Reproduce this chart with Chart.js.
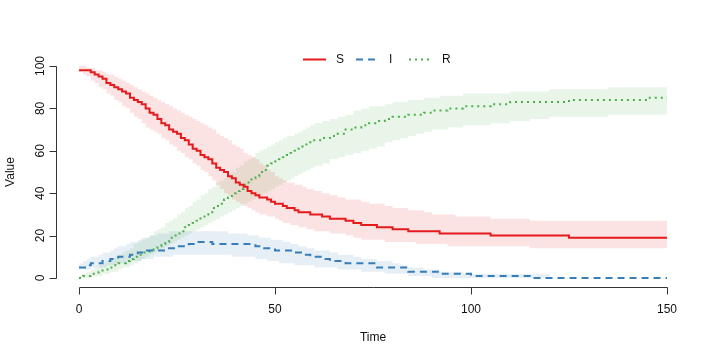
<!DOCTYPE html>
<html>
<head>
<meta charset="utf-8">
<script src="https://cdn.jsdelivr.net/npm/chart.js@4"></script>
<style>
  html, body { margin: 0; padding: 0; background: #fff; }
</style>
</head>
<body>
<canvas id="sirChart" width="720" height="360"></canvas>
<script>
// time points (days) where the step values are read
const time = [0, 1, 2, 3, 4, 5, 6, 7, 8, 9,
              10, 11, 12, 13, 14, 15, 16, 17, 18, 19,
              20, 21, 22, 23, 24, 25, 26, 27, 28, 29,
              30, 31, 32, 33, 34, 35, 36, 37, 38, 39,
              40, 41, 42, 43, 44, 45, 46, 47, 48, 49,
              50, 51, 52, 53, 54, 55, 56, 57, 58, 59,
              60,
              62, 64, 66, 68, 70, 72, 74, 76, 78, 80,
              82, 84, 86, 88, 90, 92, 94, 96, 98, 100,
              105, 110, 115, 120, 125, 130, 135, 140, 145, 150];

const sMedian = [98, 98, 98, 97, 96, 95, 94, 92, 91, 90,
                 89, 88, 87, 85, 84, 83, 82, 80, 78, 77,
                 75, 73, 72, 70, 69, 68, 66, 65, 63, 61,
                 60, 58, 57, 56, 54, 52, 51, 50, 48, 47,
                 45, 44, 43, 41, 40, 39, 38, 38, 37, 36,
                 35, 35, 34, 33, 33, 32, 31, 31, 31, 30,
                 30,
                 29, 28, 28, 27, 26, 25, 25, 24, 24, 23,
                 23, 22, 22, 22, 22, 21, 21, 21, 21, 21,
                 20, 20, 20, 20, 19, 19, 19, 19, 19, 19];
const sUpper = [100, 100, 99, 99, 98, 98, 97, 96, 96, 95,
                94, 93, 92, 91, 90, 89, 88, 87, 86, 85,
                84, 83, 82, 81, 80, 79, 78, 77, 76, 75,
                74, 73, 72, 71, 70, 68, 67, 66, 65, 63,
                62, 61, 59, 58, 57, 56, 54, 53, 51, 50,
                48, 47, 46, 45, 45, 44, 44, 43, 42, 42,
                41,
                40, 39, 38, 37, 37, 36, 35, 35, 34, 33,
                33, 32, 32, 31, 30, 30, 30, 29, 29, 29,
                28, 28, 27, 27, 27, 27, 27, 27, 27, 27];
const sLower = [97, 96, 95, 93, 92, 90, 89, 87, 86, 84,
                83, 81, 80, 78, 76, 75, 73, 71, 70, 69,
                68, 66, 65, 63, 62, 60, 59, 57, 56, 54,
                53, 51, 50, 48, 46, 44, 42, 40, 39, 37,
                36, 35, 34, 33, 32, 31, 30, 30, 29, 29,
                28, 27, 26, 26, 25, 25, 24, 24, 23, 23,
                22,
                22, 21, 21, 20, 19, 18, 18, 18, 17, 17,
                17, 17, 16, 16, 16, 16, 15, 15, 15, 15,
                15, 15, 14, 14, 14, 14, 14, 14, 14, 14];

const iMedian = [5, 5, 6, 7, 7, 7, 8, 8, 9, 9,
                 10, 10, 10, 11, 11, 12, 12, 13, 13, 13,
                 13, 13, 14, 14, 14, 15, 15, 15, 16, 16,
                 17, 17, 17, 17, 16, 16, 16, 16, 16, 16,
                 16, 16, 16, 16, 16, 15, 14, 14, 14, 14,
                 13, 13, 13, 13, 13, 12, 12, 11, 11, 10,
                 10,
                 9, 8, 8, 7, 7, 7, 7, 5, 5, 5,
                 5, 3, 3, 3, 3, 2, 2, 2, 2, 1,
                 1, 1, 0, 0, 0, 0, 0, 0, 0, 0];
const iUpper = [7, 8, 9, 10, 10, 11, 12, 12, 13, 14,
                15, 15, 16, 17, 17, 18, 19, 19, 20, 20,
                21, 21, 21, 22, 22, 22, 22, 22, 22, 22,
                22, 22, 22, 22, 22, 22, 22, 22, 21, 21,
                21, 21, 21, 20, 20, 20, 19, 19, 19, 18,
                18, 18, 17, 17, 16, 16, 15, 15, 14, 14,
                13,
                13, 12, 11, 11, 10, 9, 9, 8, 8, 7,
                6, 5, 5, 4, 4, 3, 3, 3, 2, 2,
                2, 2, 2, 0, 0, 0, 0, 0, 0, 0];
const iLower = [4, 4, 4, 5, 5, 5, 5, 6, 6, 6,
                7, 7, 7, 8, 8, 8, 9, 9, 9, 10,
                10, 10, 10, 10, 11, 11, 11, 11, 11, 11,
                11, 11, 11, 11, 11, 11, 11, 11, 11, 10,
                10, 10, 10, 10, 10, 9, 9, 9, 8, 8,
                8, 7, 7, 7, 7, 6, 6, 6, 6, 6,
                5,
                5, 5, 4, 4, 4, 3, 3, 3, 2, 2,
                2, 1, 1, 1, 0, 0, 0, 0, 0, 0,
                0, 0, 0, 0, 0, 0, 0, 0, 0, 0];

const rMedian = [0, 1, 1, 2, 2, 3, 4, 4, 5, 6,
                 7, 7, 8, 9, 10, 11, 12, 12, 13, 14,
                 15, 16, 17, 19, 20, 21, 22, 24, 25, 26,
                 27, 29, 30, 31, 33, 34, 35, 37, 38, 40,
                 41, 42, 44, 45, 47, 48, 50, 51, 53, 54,
                 55, 56, 57, 58, 59, 60, 61, 62, 63, 64,
                 65,
                 66, 67, 68, 70, 71, 72, 73, 74, 75, 76,
                 76, 77, 77, 78, 79, 79, 80, 80, 81, 81,
                 82, 83, 83, 83, 84, 84, 84, 84, 85, 85];
const rUpper = [1, 2, 3, 4, 5, 6, 7, 8, 9, 10,
                11, 12, 13, 14, 16, 17, 18, 19, 20, 22,
                23, 24, 26, 27, 28, 30, 31, 33, 34, 36,
                37, 39, 40, 42, 43, 45, 46, 47, 49, 50,
                52, 53, 55, 56, 57, 59, 60, 61, 62, 63,
                64, 65, 66, 67, 67, 68, 69, 70, 71, 72,
                73,
                74, 75, 76, 77, 79, 80, 81, 81, 82, 83,
                83, 84, 84, 85, 85, 86, 86, 86, 87, 87,
                87, 88, 88, 89, 89, 89, 90, 90, 90, 90];
const rLower = [0, 0, 0, 1, 1, 1, 2, 2, 3, 3,
                4, 5, 5, 6, 7, 8, 9, 10, 11, 12,
                13, 14, 15, 16, 17, 18, 19, 20, 21, 22,
                23, 24, 25, 26, 27, 28, 29, 30, 31, 32,
                33, 34, 35, 36, 37, 38, 39, 40, 41, 42,
                43, 44, 45, 46, 47, 48, 49, 50, 51, 52,
                53,
                54, 56, 57, 58, 59, 60, 61, 62, 64, 65,
                66, 67, 68, 69, 70, 70, 71, 71, 72, 72,
                73, 74, 75, 76, 76, 76, 77, 77, 77, 77];

const xTicks = [0, 50, 100, 150];
const yTicks = [0, 20, 40, 60, 80, 100];
const xTitle = 'Time';
const yTitle = 'Value';

const FONT = '12px "Liberation Sans", Arial, Helvetica, sans-serif';

function pts(arr) {
    return time.map((t, i) => ({ x: t, y: arr[i] }));
}

function line(label, arr, color, dash) {
    return {
        label: label, data: pts(arr), borderColor: color, borderWidth: 2,
        borderDash: dash, stepped: true, fill: false, pointRadius: 0, inLegend: true
    };
}

function band(arr, fill, bg) {
    return {
        label: '', data: pts(arr), borderColor: 'transparent', borderWidth: 0,
        backgroundColor: bg, stepped: true, fill: fill, pointRadius: 0
    };
}

// R base-graphics style axes, drawn by hand so the y labels can be rotated
const rAxes = {
    id: 'rAxes',
    afterDraw(chart) {
        const { ctx, chartArea, scales: { x, y } } = chart;
        ctx.save();
        ctx.strokeStyle = '#333';
        ctx.lineWidth = 1;
        ctx.fillStyle = '#111';
        ctx.font = FONT;
        ctx.textAlign = 'center';
        ctx.textBaseline = 'middle';

        const bottom = Math.round(chartArea.bottom) + 0.5;
        ctx.beginPath();
        ctx.moveTo(Math.round(x.getPixelForValue(xTicks[0])) + 0.5, bottom);
        ctx.lineTo(Math.round(x.getPixelForValue(xTicks[xTicks.length - 1])) + 0.5, bottom);
        xTicks.forEach(v => {
            const px = Math.round(x.getPixelForValue(v)) + 0.5;
            ctx.moveTo(px, bottom);
            ctx.lineTo(px, bottom + 7);
        });
        const left = Math.round(chartArea.left) + 0.5;
        ctx.moveTo(left, Math.round(y.getPixelForValue(yTicks[0])) + 0.5);
        ctx.lineTo(left, Math.round(y.getPixelForValue(yTicks[yTicks.length - 1])) + 0.5);
        yTicks.forEach(v => {
            const py = Math.round(y.getPixelForValue(v)) + 0.5;
            ctx.moveTo(left, py);
            ctx.lineTo(left - 7, py);
        });
        ctx.stroke();

        xTicks.forEach(v => ctx.fillText(String(v), x.getPixelForValue(v), bottom + 22));
        ctx.fillText(xTitle, (chartArea.left + chartArea.right) / 2, bottom + 50);

        yTicks.forEach(v => {
            ctx.save();
            ctx.translate(left - 16, y.getPixelForValue(v));
            ctx.rotate(-Math.PI / 2);
            ctx.fillText(String(v), 0, 0);
            ctx.restore();
        });
        ctx.save();
        ctx.translate(11, (chartArea.top + chartArea.bottom) / 2);
        ctx.rotate(-Math.PI / 2);
        ctx.fillText(yTitle, 0, 0);
        ctx.restore();
        ctx.restore();
    }
};

// legend inside the plot, line sample + label
const rLegend = {
    id: 'rLegend',
    afterDraw(chart) {
        const ctx = chart.ctx;
        const items = chart.data.datasets.filter(d => d.inLegend);
        let xPos = 303;
        const yPos = 59.5;
        ctx.save();
        ctx.font = FONT;
        ctx.textBaseline = 'middle';
        ctx.textAlign = 'left';
        items.forEach(d => {
            ctx.strokeStyle = d.borderColor;
            ctx.lineWidth = 2;
            ctx.setLineDash(d.borderDash || []);
            ctx.beginPath();
            ctx.moveTo(xPos, yPos);
            ctx.lineTo(xPos + 23, yPos);
            ctx.stroke();
            ctx.setLineDash([]);
            ctx.fillStyle = '#111';
            ctx.fillText(d.label, xPos + 33, yPos);
            xPos += 33 + Math.max(ctx.measureText(d.label).width, 8) + 12;
        });
        ctx.restore();
    }
};

const ctx = document.getElementById('sirChart').getContext('2d');

new Chart(ctx, {
    type: 'line',
    data: {
        datasets: [
            line('S', sMedian, '#E41A1C', []),
            line('I', iMedian, '#377EB8', [7, 5]),
            line('R', rMedian, '#4DAF4A', [2, 4]),
            band(sLower, false, 'transparent'),
            band(sUpper, '-1', 'rgba(228, 26, 28, 0.12)'),
            band(iLower, false, 'transparent'),
            band(iUpper, '-1', 'rgba(55, 126, 184, 0.12)'),
            band(rLower, false, 'transparent'),
            band(rUpper, '-1', 'rgba(77, 175, 74, 0.12)')
        ]
    },
    options: {
        responsive: false,
        animation: false,
        layout: { padding: { left: 55.5, right: 29.5, top: 57.5, bottom: 73.5 } },
        scales: {
            x: { type: 'linear', min: -6, max: 156, display: false },
            y: { type: 'linear', min: -4, max: 104, display: false }
        },
        plugins: {
            legend: { display: false },
            tooltip: { enabled: false },
            filler: { drawTime: 'beforeDatasetsDraw' }
        }
    },
    plugins: [rAxes, rLegend]
});
</script>
</body>
</html>
